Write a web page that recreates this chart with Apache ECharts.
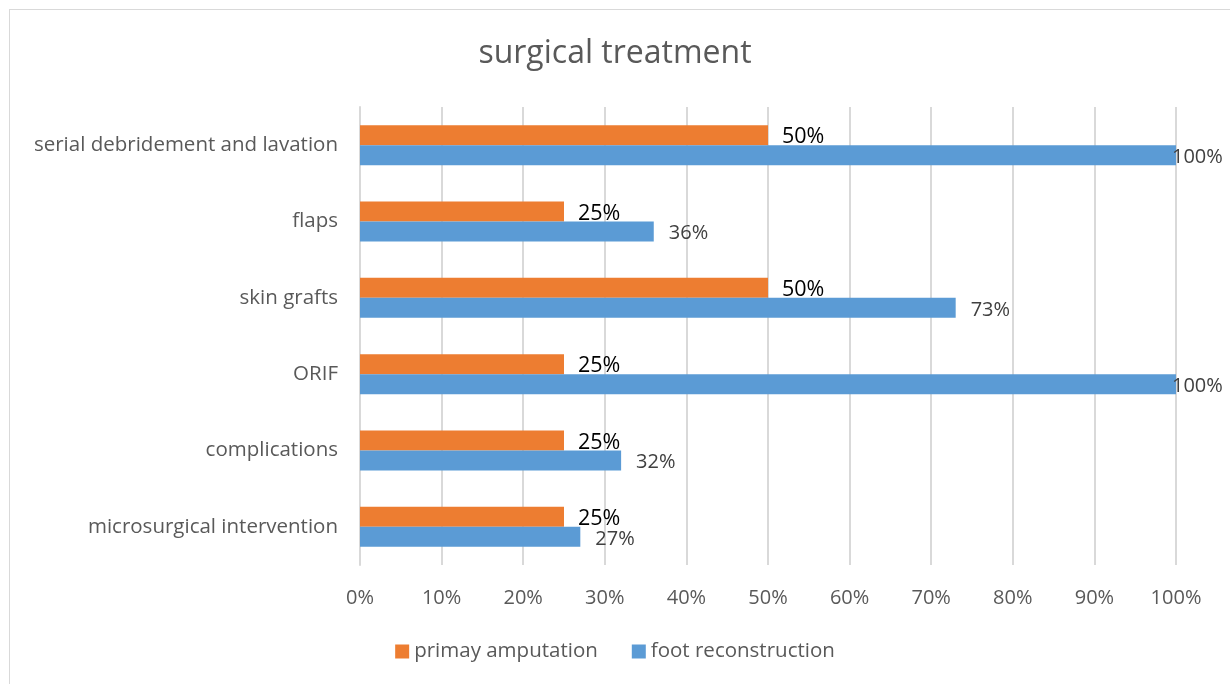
<!DOCTYPE html>
<html>
<head>
<meta charset="utf-8">
<script src="https://cdn.jsdelivr.net/npm/echarts@6/dist/echarts.min.js"></script>
<style>
  html, body { margin: 0; padding: 0; background: #fff; }
  #frame { position: absolute; left: 9px; top: 9px; width: 1240px; height: 700px; border: 1px solid #d9d9d9; }
  #chart { position: absolute; left: 0; top: 0; width: 1230px; height: 684px; }
</style>
</head>
<body>
<div id="frame"></div>
<div id="chart"></div>
<script>
// categories, top to bottom
const categories = ['serial debridement and lavation', 'flaps', 'skin grafts', 'ORIF', 'complications', 'microsurgical intervention']
const primaryAmputation = [50, 25, 50, 25, 25, 25]
const footReconstruction = [100, 36, 73, 100, 32, 27]
const tickLabels = ['0%', '10%', '20%', '30%', '40%', '50%', '60%', '70%', '80%', '90%', '100%']

const font = '"Open Sans", sans-serif'
const myChart = echarts.init(document.getElementById('chart'))

const option = {
  backgroundColor: 'transparent',
  animation: false,
  title: {
    text: 'surgical treatment',
    left: 'center',
    top: 33,
    textStyle: { fontFamily: font, fontSize: 32, fontWeight: 'normal', color: '#595959' }
  },
  legend: {
    data: ['primay amputation', 'foot reconstruction'],
    bottom: 17,
    left: 'center',
    itemWidth: 14,
    itemHeight: 14,
    itemGap: 34,
    icon: 'rect',
    textStyle: { fontFamily: font, fontSize: 20.5, color: '#595959' }
  },
  grid: { left: 360, right: 54, top: 107, bottom: 119, containLabel: false },
  xAxis: {
    type: 'value',
    min: 0,
    max: 100,
    interval: 10,
    axisLine: { show: false },
    axisTick: { show: false },
    splitLine: { lineStyle: { color: '#d9d9d9', width: 2 } },
    axisLabel: {
      margin: 23,
      fontFamily: font, fontSize: 20, color: '#595959',
      formatter: (v) => tickLabels[Math.round(v / 10)]
    }
  },
  yAxis: {
    type: 'category',
    inverse: true,
    data: categories,
    axisLine: { lineStyle: { color: '#d9d9d9', width: 2 } },
    axisTick: { show: false },
    axisLabel: { margin: 22, fontFamily: font, fontSize: 20.5, color: '#595959' }
  },
  series: [
    {
      name: 'primay amputation',
      type: 'bar',
      barWidth: 20,
      barGap: '0%',
      itemStyle: { color: '#ed7d31' },
      label: {
        show: true, position: 'right', distance: 14, offset: [0, 2],
        fontFamily: font, fontSize: 21.5, color: '#000',
        formatter: (p) => p.value + '%'
      },
      data: primaryAmputation
    },
    {
      name: 'foot reconstruction',
      type: 'bar',
      barWidth: 20,
      barGap: '0%',
      itemStyle: { color: '#5b9bd5' },
      label: {
        show: true, position: 'right', distance: 15, offset: [0, 2],
        fontFamily: font, fontSize: 20, color: '#404040',
        formatter: (p) => p.value + '%'
      },
      data: footReconstruction.map(v => v >= 100 ? { value: v, label: { distance: -4 } } : v)
    }
  ]
}

myChart.setOption(option)
</script>
</body>
</html>
